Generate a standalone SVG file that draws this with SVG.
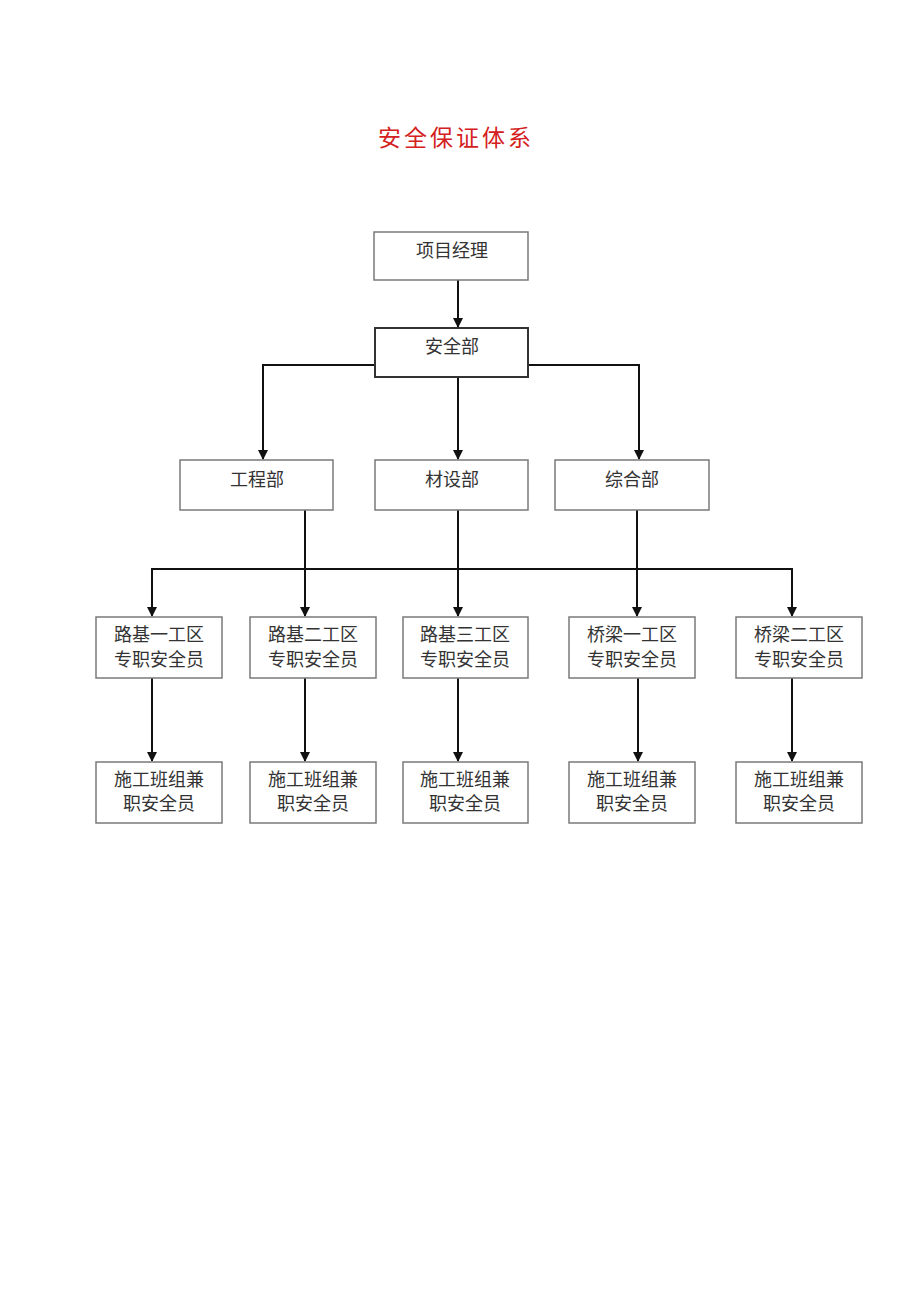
<svg xmlns="http://www.w3.org/2000/svg" width="920" height="1301" viewBox="0 0 920 1301">
<defs>
<style>
.box{fill:#fff;stroke:#7a7a7a;stroke-width:1.5}
.boxd{fill:#fff;stroke:#333;stroke-width:2}
.t{font-family:"Liberation Serif","Noto Sans CJK SC",serif;font-size:18px;fill:#333;text-anchor:middle}
.title{font-family:"Liberation Serif","Noto Sans CJK SC",serif;font-size:23px;fill:#d42020;text-anchor:middle;letter-spacing:3px}
.c{fill:none;stroke:#111;stroke-width:2}
</style>
<marker id="ah" markerWidth="10" markerHeight="10" refX="9" refY="5" orient="auto" markerUnits="userSpaceOnUse">
<path d="M0,0 L10,5 L0,10 z" fill="#111"/>
</marker>
</defs>
<rect width="920" height="1301" fill="#fff"/>
<text class="title" x="456" y="146">安全保证体系</text>
<g id="connectors">
<path class="c" d="M458,280 V327" marker-end="url(#ah)"/>
<path class="c" d="M375,365 H263 V459" marker-end="url(#ah)"/>
<path class="c" d="M458,377 V459" marker-end="url(#ah)"/>
<path class="c" d="M528,365 H639 V459" marker-end="url(#ah)"/>
<path class="c" d="M305,510 V616" marker-end="url(#ah)"/>
<path class="c" d="M458,510 V616" marker-end="url(#ah)"/>
<path class="c" d="M637,510 V616" marker-end="url(#ah)"/>
<path class="c" d="M152,569 H792"/>
<path class="c" d="M152,568 V616" marker-end="url(#ah)"/>
<path class="c" d="M792,568 V616" marker-end="url(#ah)"/>
<path class="c" d="M152,678 V761" marker-end="url(#ah)"/>
<path class="c" d="M305,678 V761" marker-end="url(#ah)"/>
<path class="c" d="M458,678 V761" marker-end="url(#ah)"/>
<path class="c" d="M638,678 V761" marker-end="url(#ah)"/>
<path class="c" d="M792,678 V761" marker-end="url(#ah)"/>
</g>
<g id="n1"><rect class="box" x="374" y="232" width="154" height="48"/><text class="t" x="452" y="257">项目经理</text></g>
<g id="n2"><rect class="boxd" x="375" y="328" width="153" height="49"/><text class="t" x="452" y="353">安全部</text></g>
<g id="n3"><rect class="box" x="180" y="460" width="153" height="50"/><text class="t" x="257" y="486">工程部</text></g>
<g id="n4"><rect class="box" x="375" y="460" width="153" height="50"/><text class="t" x="452" y="486">材设部</text></g>
<g id="n5"><rect class="box" x="555" y="460" width="154" height="50"/><text class="t" x="632" y="486">综合部</text></g>
<g id="n6"><rect class="box" x="96" y="617" width="126" height="61"/><text class="t" x="159" y="641">路基一工区</text><text class="t" x="159" y="666">专职安全员</text></g>
<g id="n7"><rect class="box" x="250" y="617" width="126" height="61"/><text class="t" x="313" y="641">路基二工区</text><text class="t" x="313" y="666">专职安全员</text></g>
<g id="n8"><rect class="box" x="403" y="617" width="125" height="61"/><text class="t" x="465" y="641">路基三工区</text><text class="t" x="465" y="666">专职安全员</text></g>
<g id="n9"><rect class="box" x="569" y="617" width="126" height="61"/><text class="t" x="632" y="641">桥梁一工区</text><text class="t" x="632" y="666">专职安全员</text></g>
<g id="n10"><rect class="box" x="736" y="617" width="126" height="61"/><text class="t" x="799" y="641">桥梁二工区</text><text class="t" x="799" y="666">专职安全员</text></g>
<g id="n11"><rect class="box" x="96" y="762" width="126" height="61"/><text class="t" x="159" y="786">施工班组兼</text><text class="t" x="159" y="810">职安全员</text></g>
<g id="n12"><rect class="box" x="250" y="762" width="126" height="61"/><text class="t" x="313" y="786">施工班组兼</text><text class="t" x="313" y="810">职安全员</text></g>
<g id="n13"><rect class="box" x="403" y="762" width="125" height="61"/><text class="t" x="465" y="786">施工班组兼</text><text class="t" x="465" y="810">职安全员</text></g>
<g id="n14"><rect class="box" x="569" y="762" width="126" height="61"/><text class="t" x="632" y="786">施工班组兼</text><text class="t" x="632" y="810">职安全员</text></g>
<g id="n15"><rect class="box" x="736" y="762" width="126" height="61"/><text class="t" x="799" y="786">施工班组兼</text><text class="t" x="799" y="810">职安全员</text></g>
</svg>
